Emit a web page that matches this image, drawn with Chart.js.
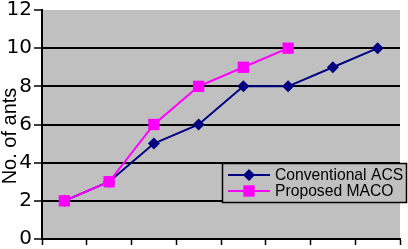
<!DOCTYPE html>
<html>
<head>
<meta charset="utf-8">
<script src="https://cdn.jsdelivr.net/npm/chart.js@4/dist/chart.umd.min.js"></script>
<style>
  html, body { margin: 0; padding: 0; background: #ffffff; }
  #wrap { width: 408px; height: 249px; }
</style>
</head>
<body>
<div id="wrap"><canvas id="chart" width="408" height="249"></canvas></div>
<script>
// categories have no visible labels in the picture
const categories = ['', '', '', '', '', '', '', ''];
const conventionalACS = [2, 3, 5, 6, 8, 8, 9, 10];
const proposedMACO = [2, 3, 6, 8, 9, 10, null, null];
const yTicks = [0, 2, 4, 6, 8, 10, 12];

const config = {
    plotBg: '#c0c0c0',
    blue: '#000080',
    pink: '#ff00ff',
    yTitle: 'No. of ants'
};

// gray plot area + white page
const bgPlugin = {
    id: 'bg',
    beforeDraw(chart) {
        const { ctx, chartArea: a } = chart;
        ctx.save();
        ctx.fillStyle = '#ffffff';
        ctx.fillRect(0, 0, chart.width, chart.height);
        ctx.fillStyle = config.plotBg;
        ctx.fillRect(a.left, a.top, a.right - a.left, a.bottom - a.top);
        ctx.restore();
    }
};

function drawMarker(ctx, ds, x, y) {
    ctx.fillStyle = ds.pointBackgroundColor;
    ctx.beginPath();
    if (ds.pointStyle === 'rectRot') {
        const r = ds.pointRadius;
        ctx.moveTo(x, y - r);
        ctx.lineTo(x + r, y);
        ctx.lineTo(x, y + r);
        ctx.lineTo(x - r, y);
        ctx.closePath();
    } else {
        const s = Math.SQRT1_2 * ds.pointRadius;
        ctx.rect(x - s, y - s, 2 * s, 2 * s);
    }
    ctx.fill();
}

// legend box sits inside the plot, lower right, like the original
const legendPlugin = {
    id: 'boxLegend',
    afterDraw(chart) {
        const ctx = chart.ctx;
        const datasets = chart.data.datasets;
        ctx.save();
        ctx.fillStyle = config.plotBg;
        ctx.fillRect(222, 163, 185, 40);
        ctx.strokeStyle = '#000000';
        ctx.lineWidth = 1.5;
        ctx.strokeRect(222.5, 163.5, 184, 39);
        ctx.font = '15.7px "Liberation Sans", Arial, sans-serif';
        ctx.textBaseline = 'middle';
        datasets.forEach((ds, i) => {
            const y = 175 + i * 16;
            ctx.strokeStyle = ds.borderColor;
            ctx.lineWidth = 2;
            ctx.beginPath();
            ctx.moveTo(228, y);
            ctx.lineTo(270, y);
            ctx.stroke();
            drawMarker(ctx, ds, 249, y);
            ctx.fillStyle = '#000000';
            ctx.fillText(ds.label, 275, y + 1);
        });
        ctx.restore();
    }
};

// rotated y title overlapping the tick labels
const yTitlePlugin = {
    id: 'yTitle',
    afterDraw(chart) {
        const ctx = chart.ctx;
        ctx.save();
        ctx.translate(16, 136);
        ctx.rotate(-Math.PI / 2);
        ctx.font = '20px "Liberation Sans", Arial, sans-serif';
        ctx.fillStyle = '#000000';
        ctx.textAlign = 'center';
        ctx.textBaseline = 'alphabetic';
        ctx.fillText(config.yTitle, 0, 0);
        ctx.restore();
    }
};

new Chart(document.getElementById('chart'), {
    type: 'line',
    data: {
        labels: categories,
        datasets: [
            {
                label: 'Conventional ACS',
                data: conventionalACS,
                borderColor: config.blue,
                backgroundColor: config.blue,
                pointBackgroundColor: config.blue,
                pointBorderWidth: 0,
                pointStyle: 'rectRot',
                pointRadius: 6,
                borderWidth: 2,
                tension: 0,
                order: 1
            },
            {
                label: 'Proposed MACO',
                data: proposedMACO,
                borderColor: config.pink,
                backgroundColor: config.pink,
                pointBackgroundColor: config.pink,
                pointBorderWidth: 0,
                pointStyle: 'rect',
                pointRadius: 8,
                borderWidth: 2,
                tension: 0,
                order: 0
            }
        ]
    },
    options: {
        responsive: false,
        animation: false,
        layout: { padding: { top: 8, right: 3, left: 0, bottom: 0 } },
        plugins: {
            legend: { display: false },
            tooltip: { enabled: false }
        },
        scales: {
            x: {
                offset: true,
                grid: {
                    offset: true,
                    drawOnChartArea: false,
                    drawTicks: true,
                    tickLength: 6,
                    tickColor: '#000000',
                    tickWidth: 1.5
                },
                border: { color: '#000000', width: 2 },
                ticks: { display: true, font: { size: 1 } },
                afterFit(scale) { scale.height = 8; }
            },
            y: {
                min: 0,
                max: 12,
                afterBuildTicks(scale) {
                    scale.ticks = yTicks.map(v => ({ value: v }));
                },
                grid: {
                    color: ctx => (ctx.tick && ctx.tick.value === 12) ? 'rgba(0,0,0,0)' : '#000000',
                    lineWidth: 2,
                    tickColor: '#000000',
                    tickLength: 8,
                    tickWidth: 1.5
                },
                border: { color: '#000000', width: 2 },
                ticks: {
                    color: '#000000',
                    padding: 2,
                    font: { family: '"DejaVu Sans", sans-serif', size: 20, lineHeight: 0.8 }
                },
                afterFit(scale) { scale.width = 42; }
            }
        }
    },
    plugins: [bgPlugin, legendPlugin, yTitlePlugin]
});
</script>
</body>
</html>
